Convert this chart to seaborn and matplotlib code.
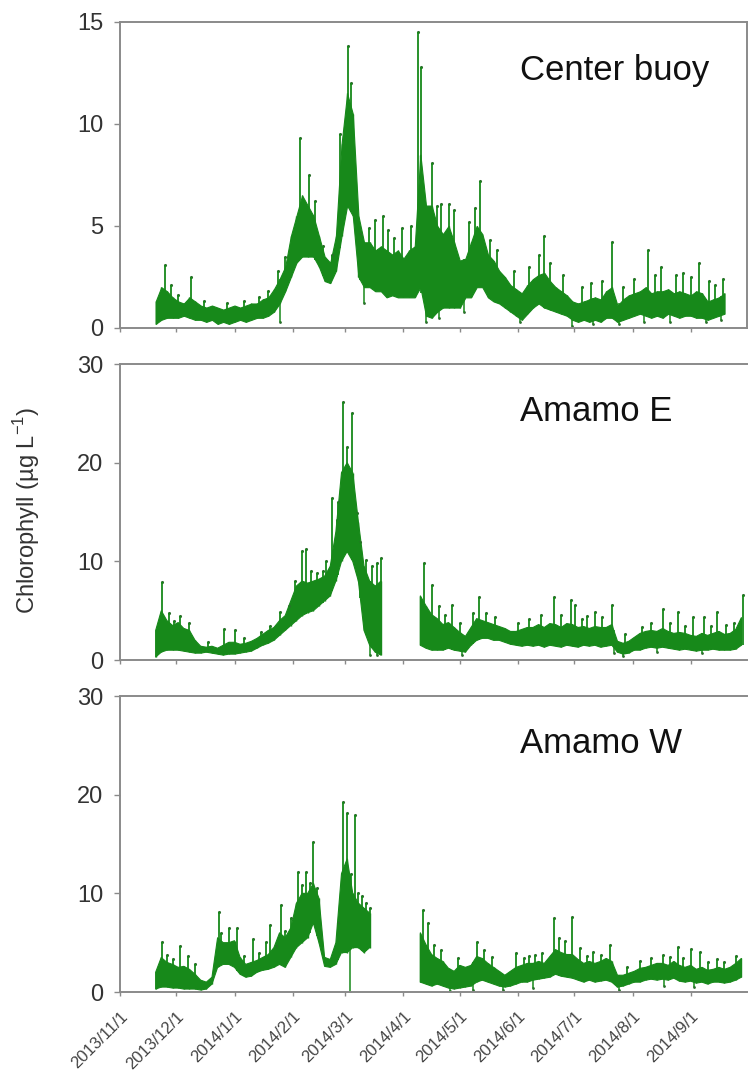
import numpy as np
import pandas as pd
import seaborn as sns
import matplotlib.pyplot as plt

# sampling grid: days after 2013/11/1, every 3 days
grid_days = list(range(19, 332, 3))

# Center buoy: lower / upper edge of the daily band (ug/L)
buoy_low = [0.2, 0.4, 0.5, 0.5, 0.5, 0.6, 0.5, 0.4, 0.4, 0.3, 0.4, 0.2, 0.3, 0.2, 0.3, 0.4, 0.3, 0.4, 0.5, 0.5,
            0.6, 0.8, 1.2, 1.8, 2.5, 3.2, 3.5, 3.5, 3.5, 3.0, 2.3, 2.2, 2.8, 4.5, 6.0, 5.5, 2.5, 2.0, 2.0, 1.8,
            1.8, 1.5, 1.6, 1.5, 1.5, 1.5, 1.5, 2.0, 0.6, 0.5, 0.8, 1.0, 1.0, 1.0, 1.0, 1.5, 1.5, 2.0, 2.0, 1.5,
            1.3, 1.2, 1.0, 0.8, 0.6, 0.4, 0.7, 1.0, 1.2, 1.0, 0.9, 0.8, 0.7, 0.6, 0.4, 0.3, 0.4, 0.3, 0.4, 0.3,
            0.5, 0.5, 0.3, 0.4, 0.5, 0.6, 0.7, 0.6, 0.5, 0.6, 0.5, 0.7, 0.6, 0.5, 0.6, 0.6, 0.5, 0.5, 0.4, 0.5,
            0.6, 0.7, np.nan, np.nan, np.nan]
buoy_high = [1.3, 2.0, 1.8, 1.5, 1.3, 1.2, 1.5, 1.3, 1.1, 1.0, 1.1, 1.0, 0.9, 1.0, 1.1, 1.0, 1.1, 1.2, 1.2, 1.4,
             1.5, 1.9, 2.4, 3.0, 4.5, 5.5, 6.5, 6.0, 5.5, 4.5, 3.5, 3.2, 4.5, 9.0, 11.5, 10.5, 5.5, 4.2, 4.2, 3.8,
             4.0, 3.8, 3.6, 3.8, 3.4, 3.8, 4.0, 8.5, 6.0, 6.0, 5.0, 4.6, 5.0, 4.2, 3.3, 3.4, 4.2, 5.0, 4.6, 3.6,
             3.3, 2.8, 2.5, 2.1, 1.9, 1.7, 2.1, 2.4, 2.6, 2.7, 2.3, 2.0, 1.8, 1.6, 1.3, 1.2, 1.3, 1.4, 1.5, 1.4,
             1.8, 2.0, 1.1, 1.4, 1.6, 1.7, 1.8, 2.0, 1.7, 1.8, 1.8, 1.9, 1.7, 1.8, 1.7, 1.6, 1.8, 1.7, 1.3, 1.4,
             1.5, 1.7, np.nan, np.nan, np.nan]
buoy_spike_days = [23.8, 27, 31, 38, 45, 57, 66, 74, 79, 84, 88, 96, 100.6, 104, 108, 113, 117, 121.3, 123,
                   128, 132.4, 136, 140, 143, 146, 150, 155, 159, 160.6, 166, 169, 171, 175, 178, 186, 189, 192,
                   197, 201, 210, 218, 223, 226, 229, 236, 246, 251, 257, 262, 268, 274, 281, 285, 288, 296,
                   300, 304, 308.6, 314, 317, 321]
buoy_spike_vals = [3.1, 2.1, 1.6, 2.5, 1.3, 1.2, 1.3, 1.5, 1.8, 2.8, 3.5, 9.3, 7.5, 6.2, 4.0, 3.6, 9.5, 13.8,
                   12.0, 4.6, 4.9, 5.3, 5.5, 4.8, 4.4, 4.9, 5.0, 14.5, 12.8, 8.1, 6.0, 6.1, 6.1, 5.8, 5.2, 5.9,
                   7.2, 4.3, 3.8, 2.8, 3.0, 3.6, 4.5, 3.2, 2.6, 2.0, 2.2, 2.3, 4.2, 2.0, 2.4, 3.8, 2.6, 3.0, 2.6,
                   2.7, 2.5, 3.2, 2.3, 2.1, 2.4]
buoy_dip_days = [85, 130, 163, 170, 183, 213, 241, 252, 266, 279, 293, 312, 320]
buoy_dip_vals = [0.3, 1.2, 0.3, 0.5, 0.8, 0.3, 0.1, 0.2, 0.2, 0.3, 0.3, 0.3, 0.4]

# Amamo E
east_low = [0.3, 0.8, 1.0, 1.0, 1.0, 0.9, 0.8, 0.7, 0.7, 0.8, 0.7, 0.6, 0.5, 0.6, 0.6, 0.7, 0.8, 0.9, 1.2, 1.5,
            1.7, 2.0, 2.5, 3.0, 3.5, 4.0, 4.5, 4.8, 5.0, 5.5, 6.0, 6.5, 8.0, 10.0, 11.0, 10.0, 8.0, 3.0, 1.5, 0.8,
            0.5, np.nan, np.nan, np.nan, np.nan, np.nan, np.nan, 1.5, 1.2, 1.0, 1.0, 1.0, 1.2, 1.0, 0.9, 0.8,
            1.5, 2.0, 2.2, 2.2, 2.0, 2.0, 1.8, 1.6, 1.5, 1.4, 1.5, 1.4, 1.5, 1.3, 1.5, 1.4, 1.3, 1.5, 1.4, 1.3,
            1.5, 1.4, 1.5, 1.3, 1.4, 1.5, 0.8, 0.6, 0.7, 1.0, 1.0, 1.2, 1.3, 1.2, 1.3, 1.2, 1.1, 1.0, 1.1, 1.0,
            0.9, 1.0, 1.0, 1.1, 1.0, 1.0, 1.0, 1.1, 1.5]
east_high = [3.0, 5.0, 4.0, 3.5, 3.8, 3.2, 3.0, 2.0, 1.4, 1.3, 1.4, 1.2, 1.5, 1.8, 1.8, 1.6, 1.7, 1.9, 2.2, 2.6,
             3.0, 3.3, 4.0, 4.5, 6.0, 7.5, 8.0, 7.8, 8.0, 8.2, 8.5, 9.5, 13.0, 19.0, 20.0, 19.0, 14.0, 9.5, 8.0,
             7.5, 8.0, np.nan, np.nan, np.nan, np.nan, np.nan, np.nan, 6.5, 5.5, 4.6, 4.2, 3.6, 3.8, 3.3, 2.8,
             2.4, 3.3, 4.2, 4.0, 3.8, 3.6, 3.4, 3.2, 2.9, 2.9, 3.1, 3.3, 3.3, 3.6, 3.3, 3.7, 3.6, 3.3, 3.7, 3.6,
             3.3, 3.4, 3.2, 3.4, 3.3, 3.3, 3.6, 1.9, 1.7, 1.9, 2.3, 2.7, 2.9, 3.0, 2.9, 3.2, 2.9, 2.7, 2.8, 2.7,
             2.5, 2.4, 2.7, 2.5, 2.7, 2.9, 2.6, 2.7, 3.1, 4.3]
east_spike_days = [22.5, 26, 29, 32, 37, 47, 55.6, 61, 66, 75, 80, 85.5, 90, 93, 97, 99, 102, 105, 108, 110, 113,
                   115.6, 116, 119, 121, 123.5, 126, 128, 131, 134, 137, 139, 162, 166, 170, 173, 177, 181, 188,
                   191, 195, 200, 212, 218, 224, 231, 235, 240, 242.5, 246, 249, 253, 257, 262, 269, 278, 283,
                   289, 293, 297, 301, 305, 311, 315, 318, 323, 327, 332]
east_spike_vals = [7.9, 4.8, 4.0, 4.5, 3.8, 1.8, 3.1, 3.0, 2.2, 2.8, 3.5, 4.9, 5.5, 8.0, 11.1, 11.3, 9.0, 8.8,
                   9.0, 10.0, 16.4, 14.2, 16.0, 26.2, 21.6, 25.0, 14.9, 12.0, 10.1, 9.5, 9.8, 10.3, 9.8, 7.6,
                   5.5, 4.6, 5.6, 3.8, 4.8, 6.4, 4.8, 4.4, 3.8, 4.2, 4.6, 6.4, 4.6, 6.1, 5.6, 4.2, 4.5, 4.9, 4.4,
                   5.6, 2.6, 3.4, 3.8, 5.2, 3.8, 4.9, 3.5, 4.4, 4.4, 3.5, 4.9, 3.6, 3.8, 6.6]
east_dip_days = [133, 137, 182, 263, 268, 286, 310]
east_dip_vals = [0.5, 0.5, 0.5, 0.7, 0.4, 0.8, 0.7]

# Amamo W
west_low = [0.3, 0.5, 0.5, 0.4, 0.4, 0.3, 0.3, 0.3, 0.2, 0.3, 0.8, 2.5, 2.8, 2.8, 2.5, 1.8, 1.5, 1.6, 2.0, 2.2,
            2.3, 2.5, 2.8, 2.5, 3.5, 4.5, 5.0, 5.5, 7.0, 5.0, 2.6, 2.5, 2.8, 4.0, 4.0, 4.5, 4.5, 4.0, 4.5,
            np.nan, np.nan, np.nan, np.nan, np.nan, np.nan, np.nan, np.nan, 1.0, 0.8, 0.6, 0.8, 0.6, 0.4, 0.3,
            0.4, 0.5, 0.6, 1.0, 1.2, 1.0, 0.8, 0.6, 0.5, 0.6, 0.8, 1.0, 1.0, 1.2, 1.3, 1.4, 1.5, 1.8, 1.6, 1.5,
            1.4, 1.2, 1.0, 1.2, 1.0, 1.1, 1.2, 1.0, 0.5, 0.6, 0.8, 1.0, 1.0, 1.2, 1.3, 1.2, 1.3, 1.2, 1.4, 1.1,
            1.0, 1.1, 0.9, 1.0, 0.8, 1.0, 1.0, 0.9, 1.0, 1.2, 1.5]
west_high = [2.0, 3.5, 3.0, 2.8, 2.5, 2.6, 2.3, 1.8, 1.2, 1.0, 1.5, 5.5, 5.0, 5.0, 5.2, 3.5, 2.8, 3.0, 3.2, 3.5,
             3.8, 4.5, 6.0, 5.5, 6.5, 9.0, 10.0, 10.0, 11.0, 9.5, 3.5, 3.3, 5.0, 12.0, 13.5, 10.0, 9.0, 8.5, 8.0,
             np.nan, np.nan, np.nan, np.nan, np.nan, np.nan, np.nan, np.nan, 6.0, 4.8, 3.8, 3.4, 3.1, 2.4, 2.1,
             2.7, 2.5, 2.7, 3.6, 3.4, 2.9, 2.5, 2.1, 1.7, 2.1, 2.5, 2.7, 2.9, 2.9, 3.1, 2.9, 3.6, 4.3, 4.0, 3.8,
             3.8, 3.3, 2.9, 3.1, 2.9, 3.1, 3.4, 3.1, 1.7, 1.7, 1.9, 2.1, 2.4, 2.5, 2.7, 2.9, 2.9, 2.7, 3.1, 2.7,
             2.5, 2.7, 2.3, 2.5, 2.2, 2.3, 2.5, 2.3, 2.5, 2.9, 3.4]
west_spike_days = [22.4, 25, 28, 32, 36, 40, 52.5, 54, 58, 62.5, 66, 71, 74, 78, 80, 83, 85.6, 88, 91, 95, 97,
                   99, 101, 103, 105, 116, 119, 121, 123, 125, 127, 129, 131, 133, 161.5, 164, 167, 171, 180,
                   190, 194, 198, 211, 215, 218, 221, 225, 231, 234, 237, 241, 245, 249, 252, 256, 261, 270,
                   277, 283, 289, 293, 297, 300, 304, 309, 313, 318, 322, 328]
west_spike_vals = [5.1, 3.8, 3.3, 4.7, 3.6, 2.8, 8.1, 6.0, 6.5, 6.5, 3.6, 5.4, 4.0, 5.1, 6.8, 4.7, 8.8, 6.2, 7.5,
                   12.2, 10.8, 12.2, 11.0, 15.2, 10.5, 7.0, 19.3, 18.1, 12.0, 17.9, 10.0, 9.7, 9.0, 8.5, 8.3, 7.0,
                   4.8, 4.3, 3.4, 5.1, 4.3, 3.5, 4.0, 3.4, 3.6, 3.8, 4.0, 7.5, 5.5, 5.2, 7.6, 4.5, 3.7, 4.1, 3.8,
                   4.8, 2.5, 3.1, 3.4, 3.8, 3.5, 4.6, 3.4, 4.4, 4.1, 3.0, 3.3, 3.0, 3.6]
west_dip_days = [122.3, 176, 188, 204, 220, 266, 290, 306]
west_dip_vals = [0.0, 0.1, 0.2, 0.2, 0.4, 0.2, 0.6, 0.5]

site_names = ["Center buoy", "Amamo E", "Amamo W"]
y_limits = [15, 30, 30]
y_ticks = [[0, 5, 10, 15], [0, 10, 20, 30], [0, 10, 20, 30]]
month_ticks = ["2013-11-01", "2013-12-01", "2014-01-01", "2014-02-01", "2014-03-01", "2014-04-01",
               "2014-05-01", "2014-06-01", "2014-07-01", "2014-08-01", "2014-09-01"]

sns.set_theme(style="ticks")
plt.rcParams['font.family'] = ['Liberation Sans', 'DejaVu Sans']
plt.rcParams['mathtext.fontset'] = 'custom'
plt.rcParams['mathtext.rm'] = 'Liberation Sans'

start = pd.Timestamp("2013-11-01")
to_date = lambda d: start + pd.to_timedelta(np.asarray(d, dtype=float), unit="D")
grid = to_date(grid_days)

series = [
    (buoy_low, buoy_high, buoy_spike_days, buoy_spike_vals, buoy_dip_days, buoy_dip_vals),
    (east_low, east_high, east_spike_days, east_spike_vals, east_dip_days, east_dip_vals),
    (west_low, west_high, west_spike_days, west_spike_vals, west_dip_days, west_dip_vals),
]

green = "#17891a"
dot = "#2c6e2c"
spine_col = "#8a8a8a"
fig = plt.figure(figsize=(7.48, 10.75), dpi=100)
boxes = [[0.1604, 0.6949, 0.8383, 0.2847],
         [0.1604, 0.3860, 0.8383, 0.2753],
         [0.1604, 0.0772, 0.8383, 0.2753]]
ticks = pd.to_datetime(month_ticks)

for i, (low, high, sd, sv, dd, dv) in enumerate(series):
    ax = fig.add_axes(boxes[i])
    low = np.array(low, dtype=float)
    high = np.array(high, dtype=float)
    ax.fill_between(grid, low, high, color=green, lw=0.8, edgecolor=green)
    ax.vlines(grid, low, high, color=green, lw=1.0)

    # narrow spikes from the band up to the peak reading, and dips below it
    filled_low = np.nan_to_num(low, nan=0.0)
    filled_high = np.nan_to_num(high, nan=0.0)
    sdates = to_date(sd)
    ax.vlines(sdates, np.interp(sd, grid_days, filled_low), sv, color=green, lw=1.3)
    ddates = to_date(dd)
    ax.vlines(ddates, dv, np.interp(dd, grid_days, filled_high), color=green, lw=1.1)
    sns.scatterplot(x=sdates, y=sv, ax=ax, color=dot, s=5, linewidth=0, legend=False)
    sns.scatterplot(x=ddates, y=dv, ax=ax, color=dot, s=4, linewidth=0, legend=False)

    ax.set_xlim(start, pd.Timestamp("2014-10-01"))
    ax.set_ylim(0, y_limits[i])
    ax.set_yticks(y_ticks[i])
    ax.set_xticks(ticks)
    ax.set_xlabel("")
    ax.set_ylabel("")
    ax.tick_params(axis="y", labelsize=17, colors=spine_col, labelcolor="#333333", length=4, width=1, pad=8)
    ax.tick_params(axis="x", colors=spine_col, length=3, width=1, pad=9, labelcolor="#444444")
    if i == 2:
        ax.set_xticklabels([f"{t.year}/{t.month}/{t.day}" for t in ticks], rotation=45,
                           ha="right", rotation_mode="anchor", fontsize=12)
    else:
        ax.set_xticklabels([])
    for s in ax.spines.values():
        s.set_color(spine_col)
        s.set_linewidth(1.4)
    if i > 0:
        ax.spines["right"].set_visible(False)
    ax.text(0.638, 0.84, site_names[i], transform=ax.transAxes, fontsize=25, va="center", ha="left",
            color="#111111")

fig.text(0.036, 0.5256, "Chlorophyll (µg L$^{-1}$)", rotation=90, ha="center", va="center", fontsize=17,
         color="#333333")

fig.savefig("out.png", dpi=100)
